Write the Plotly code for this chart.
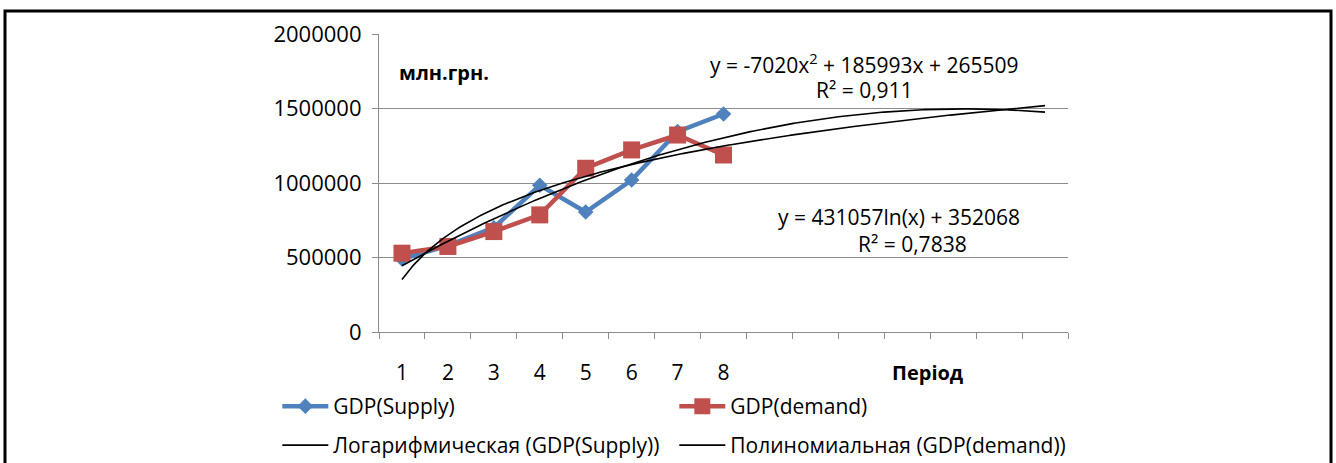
import numpy as np
import plotly.graph_objects as go

# --- data -------------------------------------------------------------
periods = [1, 2, 3, 4, 5, 6, 7, 8]
gdp_supply = [490000, 580000, 700000, 985000, 805000, 1020000, 1345000, 1463000]
gdp_demand = [529000, 574000, 674000, 786000, 1099000, 1222000, 1322000, 1188000]

# trend line coefficients (Excel trend lines, forecast to period 15)
log_coef = [431057, 352068]            # a*ln(x) + b  (GDP(Supply))
poly_coef = [-7020, 185993, 265509]    # a*x^2 + b*x + c  (GDP(demand))
trend_end = 15

x_labels = ["1", "2", "3", "4", "5", "6", "7", "8"]
y_ticks = [0, 500000, 1000000, 1500000, 2000000]

# --- geometry ---------------------------------------------------------
W, H = 1336, 463
ML, MR, MT, MB = 379, 268, 34, 131
FONT = "Open Sans"

xt = np.linspace(1, trend_end, 300)
y_log = log_coef[0] * np.log(xt) + log_coef[1]
y_poly = np.polyval(poly_coef, xt)

BLUE = "#4F81BD"
RED = "#C0504D"
GRID = "#8C8C8C"

pw = W - ML - MR
ph = H - MT - MB


def px(x):
    return (x - ML) / pw


def py(y):
    return (H - MB - y) / ph


fig = go.Figure()
fig.add_trace(go.Scatter(
    x=periods, y=gdp_supply, name="GDP(Supply)", mode="lines+markers",
    line=dict(color=BLUE, width=4.5),
    marker=dict(symbol="diamond", size=12, color=BLUE),
    legend="legend"))
fig.add_trace(go.Scatter(
    x=periods, y=gdp_demand, name="GDP(demand)", mode="lines+markers",
    line=dict(color=RED, width=4.5),
    marker=dict(symbol="square", size=17, color=RED),
    legend="legend"))
fig.add_trace(go.Scatter(
    x=xt, y=y_log, name="Логарифмическая (GDP(Supply))", mode="lines",
    line=dict(color="black", width=1.6), legend="legend2"))
fig.add_trace(go.Scatter(
    x=xt, y=y_poly, name="Полиномиальная (GDP(demand))", mode="lines",
    line=dict(color="black", width=1.6), legend="legend2"))

# second x axis carries the period labels at category centres
fig.add_trace(go.Scatter(x=[1], y=[None], xaxis="x2", showlegend=False,
                         hoverinfo="skip"))

xrange = [0.5, 15.5]
legend_common = dict(
    orientation="h", xanchor="left", yanchor="top",
    entrywidth=336, entrywidthmode="pixels", itemwidth=46,
    font=dict(family=FONT, size=21, color="black"),
    bgcolor="rgba(0,0,0,0)", traceorder="normal")

fig.update_layout(
    width=W, height=H,
    margin=dict(l=ML, r=MR, t=MT, b=MB, autoexpand=False),
    paper_bgcolor="white", plot_bgcolor="white",
    font=dict(family=FONT, size=21, color="black"),
    xaxis=dict(
        range=xrange, tickmode="array",
        tickvals=[v + 0.5 for v in range(0, 16)], showticklabels=False,
        ticks="outside", ticklen=6, tickcolor=GRID, tickwidth=1.2,
        showline=True, linecolor=GRID, linewidth=1.2, automargin=False,
        showgrid=False, zeroline=False, fixedrange=True),
    xaxis2=dict(
        range=xrange, overlaying="x", anchor="y", side="bottom",
        tickmode="array", tickvals=periods, ticktext=x_labels,
        ticks="", showline=False, showgrid=False, zeroline=False,
        automargin=False, ticklabelstandoff=26,
        tickfont=dict(family=FONT, size=21)),
    yaxis=dict(
        range=[0, 2000000], tickmode="array", tickvals=y_ticks,
        ticktext=[str(v) for v in y_ticks],
        ticks="outside", ticklen=6, tickcolor=GRID, tickwidth=1.2,
        showline=True, linecolor=GRID, linewidth=1.2,
        showgrid=True, gridcolor=GRID, gridwidth=1.2,
        zeroline=False, fixedrange=True, automargin=False,
        ticklabelstandoff=6, tickfont=dict(family=FONT, size=22)),
    legend=dict(legend_common, x=px(278) - 0.001, y=py(386)),
    legend2=dict(legend_common, x=px(278) - 0.001, y=py(425)),
    showlegend=True,
)

annotations = [
    dict(text="<b>млн.грн.</b>", x=px(397), y=py(72), xanchor="left",
         yanchor="middle", font=dict(size=20)),
    dict(text="<b>Період</b>", x=px(890), y=py(372), xanchor="left",
         yanchor="middle", font=dict(size=20)),
    dict(text="y = -7020x<sup>2</sup> + 185993x + 265509", x=px(864), y=py(63),
         xanchor="center", yanchor="middle", font=dict(size=21)),
    dict(text="R² = 0,911", x=px(864), y=py(90),
         xanchor="center", yanchor="middle", font=dict(size=21)),
    dict(text="y = 431057ln(x) + 352068", x=px(899), y=py(217),
         xanchor="center", yanchor="middle", font=dict(size=21)),
    dict(text="R² = 0,7838", x=px(912), y=py(244),
         xanchor="center", yanchor="middle", font=dict(size=21)),
]
for a in annotations:
    a.update(xref="paper", yref="paper", showarrow=False)
fig.update_layout(annotations=annotations)

# outer chart frame
fig.add_shape(type="rect", xref="paper", yref="paper",
              x0=px(5), x1=px(1331), y0=py(475), y1=py(11),
              line=dict(color="black", width=3), layer="above")

fig.write_html("out.html")
